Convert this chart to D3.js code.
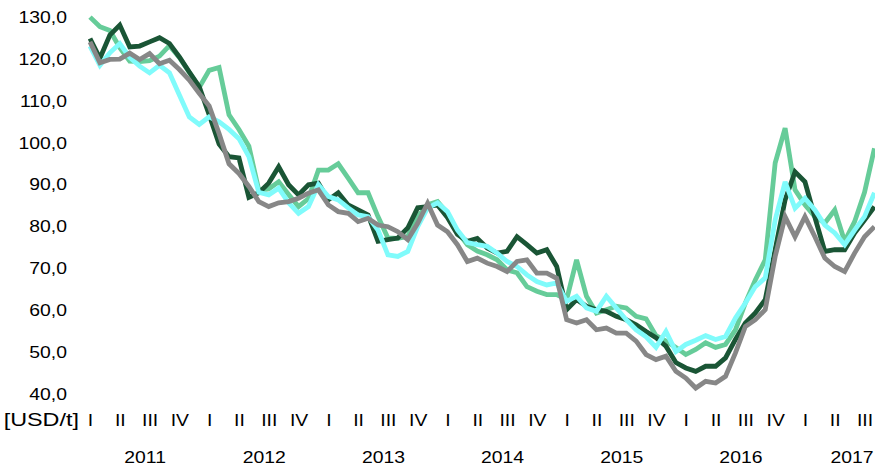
<!DOCTYPE html>
<html>
<head>
<meta charset="utf-8">
<script src="https://cdn.jsdelivr.net/npm/d3@7"></script>
<style>
  html, body { margin: 0; padding: 0; background: #fff; }
  svg { display: block; }
  text { font-family: "Liberation Sans", Arial, sans-serif; fill: #000; }
</style>
</head>
<body>
<svg id="chart" width="875" height="470"></svg>
<script>
// ---- data (monthly, Jan 2011 .. Aug 2017), USD/t ----
const years = [2011, 2012, 2013, 2014, 2015, 2016, 2017];
const quarters = ["I", "II", "III", "IV"];
const yTicks = [40, 50, 60, 70, 80, 90, 100, 110, 120, 130];
const unitLabel = "[USD/t]";

const seriesLightGreen = [
  129.8, 127.5, 126.6, 122.5, 119.3, 119.2, 119.4, 120.5, 123.0, 120.2, 116.6, 113.0,
  117.1, 117.8, 106.5, 103.0, 99.0, 88.5, 88.8, 90.5, 87.5, 84.6, 86.5, 93.3,
  93.3, 94.8, 91.4, 87.9, 87.9, 82.2, 77.1, 77.0, 77.5, 82.2, 85.0, 85.8,
  83.0, 78.6, 75.5, 74.0, 73.1, 71.9, 69.5, 68.8, 65.5, 64.4, 63.6, 63.6,
  62.4, 71.9, 63.2, 59.2, 60.0, 60.8, 60.4, 58.4, 57.8, 53.8, 52.5, 51.0,
  49.3, 50.5, 52.1, 51.0, 51.7, 55.2, 61.6, 67.1, 71.9, 95.0, 103.3, 88.6,
  85.0, 82.2, 80.7, 83.8, 76.3, 81.0, 88.0, 98.5
];
const seriesDarkGreen = [
  124.7, 120.0, 125.5, 127.9, 122.7, 122.9, 123.9, 124.9, 123.5, 120.3, 116.7, 113.2,
  106.5, 99.5, 96.5, 96.2, 86.8, 87.9, 90.2, 94.1, 89.8, 87.4, 89.8, 90.2,
  86.2, 87.9, 85.0, 83.8, 82.6, 76.3, 76.7, 77.1, 79.5, 84.3, 84.6, 85.0,
  82.0, 78.0, 76.3, 77.0, 74.7, 73.5, 73.9, 77.4, 75.5, 73.5, 74.3, 70.3,
  60.0, 62.4, 60.8, 60.0, 59.6, 58.4, 57.6, 56.4, 54.8, 53.3, 51.3, 47.4,
  46.1, 45.3, 46.5, 46.5, 48.5, 52.9, 56.8, 59.2, 62.4, 74.3, 86.2, 92.9,
  90.5, 82.0, 73.9, 74.3, 74.3, 78.3, 81.4, 84.6
];
const seriesCyan = [
  122.9, 118.3, 121.3, 123.5, 120.2, 118.1, 116.5, 118.3, 116.5, 111.2, 106.0, 104.2,
  106.0, 104.8, 103.0, 100.8, 96.5, 88.0, 87.4, 89.0, 85.5, 83.0, 84.6, 89.8,
  87.0, 86.2, 84.3, 82.6, 82.2, 79.0, 73.1, 72.7, 73.9, 79.8, 84.3, 85.5,
  83.4, 79.0, 76.0, 75.5, 75.1, 73.5, 71.5, 70.3, 68.3, 66.7, 65.9, 66.4,
  62.0, 63.2, 60.4, 59.6, 63.2, 60.4, 57.6, 55.2, 53.5, 51.0, 54.8, 50.0,
  51.7, 52.7, 53.8, 52.9, 53.6, 58.0, 61.6, 65.5, 67.6, 81.4, 90.5, 84.2,
  86.6, 83.8, 80.2, 78.3, 75.5, 79.0, 82.2, 87.9
];
const seriesGray = [
  123.9, 118.9, 119.7, 119.8, 121.2, 119.7, 121.1, 118.7, 119.5, 117.3, 114.8, 111.6,
  108.6, 102.0, 94.8, 92.5, 89.4, 85.8, 84.6, 85.5, 85.8, 86.6, 87.8, 88.6,
  85.0, 83.4, 83.0, 81.0, 81.8, 80.2, 79.8, 78.6, 76.7, 80.6, 85.4, 80.2,
  78.6, 75.5, 71.5, 72.3, 71.1, 70.3, 69.1, 71.5, 71.9, 68.7, 68.7, 67.5,
  57.6, 56.8, 57.6, 55.2, 55.6, 54.4, 54.4, 52.5, 49.3, 48.1, 48.9, 45.3,
  43.7, 41.3, 42.9, 42.5, 44.1, 49.7, 56.0, 57.6, 60.0, 72.7, 82.2, 77.4,
  82.2, 77.4, 72.3, 70.3, 69.1, 73.5, 77.4, 79.8
];

const seriesList = [
  { values: seriesLightGreen, color: "#66cc99" },
  { values: seriesDarkGreen,  color: "#1a5535" },
  { values: seriesCyan,       color: "#80fbfb" },
  { values: seriesGray,       color: "#878787" }
];

// ---- layout ----
const W = 875;
const svg = d3.select("#chart");
const nMonths = seriesLightGreen.length;
const x = d3.scaleLinear().domain([0, nMonths - 1]).range([90, 90 + (nMonths - 1) * 9.93]);
const y = d3.scaleLinear().domain([40, 130]).range([393.5, 16.3]);
const sx = 1.14; // horizontal stretch of the original text rendering

const fmt = v => d3.format(".1f")(v).replace(".", ",");

function styleText(sel, size) {
  sel.style("font-size", (size || 17) + "px")
     .style("font-family", "'Liberation Sans', Arial, sans-serif")
     .attr("fill", "#000");
}

// y axis labels
const yAxis = d3.axisLeft(y).tickValues(yTicks).tickFormat(fmt).tickSize(0).tickPadding(0);
const gy = svg.append("g").attr("transform", "translate(67,0)").call(yAxis);
gy.select(".domain").remove();
gy.selectAll("text")
  .attr("x", null).attr("dy", null)
  .attr("transform", "translate(0,6) scale(" + sx + ",1)")
  .call(styleText);

// lines
const line = d3.line().x((d, i) => x(i)).y(d => y(d));
seriesList.forEach(s => {
  svg.append("path")
    .datum(s.values)
    .attr("fill", "none")
    .attr("stroke", s.color)
    .attr("stroke-width", 4.8)
    .attr("stroke-linejoin", "miter")
    .attr("stroke-miterlimit", 3)
    .attr("d", line);
});

// quarter labels (x axis, first row) — only those that fall inside the frame
const qTicks = d3.range(0, years.length * 12, 3).filter(m => x(m) < W - 5);
const xAxisQ = d3.axisBottom(x).tickValues(qTicks)
  .tickFormat(d => quarters[(d / 3) % 4]).tickSize(0).tickPadding(0);
const gq = svg.append("g").attr("transform", "translate(0,426)").call(xAxisQ);
gq.select(".domain").remove();
gq.selectAll("text")
  .attr("y", null).attr("dy", null)
  .attr("transform", "scale(" + sx + ",1)")
  .call(styleText);

// year labels (second row)
const yearPos = years.map((yr, k) => k * 12 + 5.5);
const xAxisY = d3.axisBottom(x).tickValues(yearPos)
  .tickFormat((d, i) => String(years[i])).tickSize(0).tickPadding(0);
const gyr = svg.append("g").attr("transform", "translate(0,463)").call(xAxisY);
gyr.select(".domain").remove();
gyr.selectAll(".tick").each(function (d) {
  const t = d3.select(this).select("text");
  t.attr("y", null).attr("dy", null).call(styleText);
  // keep the label inside the frame (the right-most year is cut by the chart edge)
  const half = this.querySelector("text").getComputedTextLength() * sx / 2;
  const over = x(d) + half - (W - 2);
  const shift = over > 0 ? -over : 0;
  t.attr("transform", "translate(" + shift + ",0) scale(" + sx + ",1)");
});

// unit label
svg.append("text")
  .attr("transform", "translate(79,426) scale(1.3,1)")
  .attr("text-anchor", "end")
  .call(styleText, 18)
  .text(unitLabel);
</script>
</body>
</html>
